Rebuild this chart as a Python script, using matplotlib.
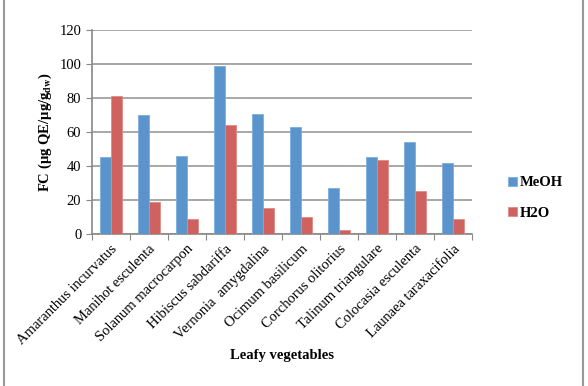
import numpy as np
import matplotlib
matplotlib.use("Agg")
import matplotlib.pyplot as plt
from matplotlib.patches import Rectangle

# Data
vegetables = ["Amaranthus incurvatus", "Manihot esculenta", "Solanum macrocarpon",
              "Hibiscus sabdariffa", "Vernonia  amygdalina", "Ocimum basilicum",
              "Corchorus olitorius", "Talinum triangulare", "Colocasia esculenta",
              "Launaea taraxacifolia"]
meoh = [45.5, 70, 46, 99, 70.5, 63, 27, 45, 54, 42]
h2o = [81, 19, 9, 64, 15, 10, 2.5, 43.5, 25, 9]

plt.rcParams["font.family"] = ["Liberation Serif", "DejaVu Serif"]
plt.rcParams["mathtext.fontset"] = "stix"

fig = plt.figure(figsize=(5.88, 3.86), dpi=100)
ax = fig.add_axes([0.156, 0.394, 0.647, 0.528])

x = np.arange(len(vegetables))
w = 0.29
ax.bar(x - w / 2, meoh, w, color="#5b93cb", edgecolor="#7aaee0", linewidth=0.6, label="MeOH", zorder=3)
ax.bar(x + w / 2, h2o, w, color="#cf625e", edgecolor="#e08a86", linewidth=0.6, label="H2O", zorder=3)

ax.set_xlim(-0.5, len(vegetables) - 0.5)
ax.set_ylim(0, 120)
ax.set_yticks(range(0, 121, 20))
ax.set_xticks(np.arange(-0.5, len(vegetables), 1))
ax.set_xticklabels([])
ax.set_xticks(x, minor=True)
ax.set_xticklabels(vegetables, minor=True, rotation=45, ha="right", va="top",
                   rotation_mode="anchor", fontsize=10.5)
ax.tick_params(axis="x", which="minor", length=0, pad=6)
ax.tick_params(axis="x", which="major", length=4, color="#888888")
ax.tick_params(axis="y", length=4, color="#888888", labelsize=10.5)

ax.grid(axis="y", color="#9a9a9a", linewidth=1.2, zorder=0)
for s in ["top", "right"]:
    ax.spines[s].set_visible(False)
for s in ["left", "bottom"]:
    ax.spines[s].set_color("#888888")
    ax.spines[s].set_linewidth(1.2)

ax.set_ylabel(r"FC (µg QE/µg/g$_{\mathbf{dw}}$)", fontweight="bold", fontsize=10.5)
ax.set_xlabel("Leafy vegetables", fontweight="bold", fontsize=10.5)
ax.xaxis.set_label_coords(0.5, -0.598)
ax.xaxis.label.set_va("center")

ax.legend(loc="center left", bbox_to_anchor=(1.06, 0.176), frameon=False,
          prop={"weight": "bold", "size": 10.5}, handlelength=0.6, handleheight=0.6,
          handletextpad=0.2, labelspacing=1.2)

fig.patches.append(Rectangle((0.006, -0.01), 0.986, 1.02, transform=fig.transFigure,
                             fill=False, edgecolor="#999999", linewidth=1.5))

fig.savefig("out.png", dpi=100)
